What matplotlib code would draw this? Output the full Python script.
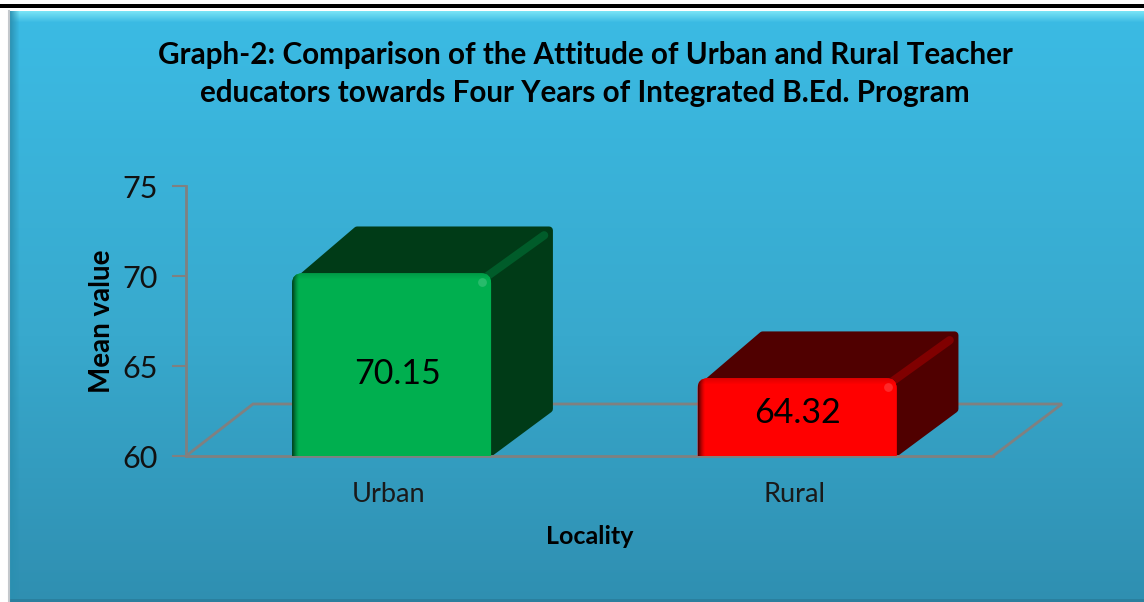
import numpy as np
import matplotlib
matplotlib.use("Agg")
import matplotlib.pyplot as plt
from matplotlib.colors import to_rgb
from matplotlib.patches import FancyBboxPatch, Polygon

categories = ["Urban", "Rural"]
means = [70.15, 64.32]
value_labels = ["70.15", "64.32"]
yticks = [60, 65, 70, 75]

front_colors = ["#00b050", "#ff0000"]
side_colors = ["#003b17", "#500000"]
band_colors = ["#005c2a", "#800000"]

plt.rcParams["font.family"] = ["Lato", "DejaVu Sans"]

W, H = 1144, 602
fig = plt.figure(figsize=(W / 100, H / 100), dpi=100, facecolor="white")

# background panel, drawn in pixel coords on a full figure axes
bg = fig.add_axes([0, 0, 1, 1])
bg.axis("off")
bg.fill_between([0, W], 4, 8, color="black", lw=0)
top = np.array(to_rgb("#3bbbe4"))
mid = np.array(to_rgb("#38a9cd"))
bot = np.array(to_rgb("#2f8fb1"))
t = np.linspace(0, 1, 300)[:, None]
grad = np.where(t < 0.55, top + (mid - top) * t / 0.55, mid + (bot - mid) * (t - 0.55) / 0.45)
bg.imshow(grad[:, None, :], extent=[10, W, H, 11], aspect="auto", zorder=1)

# bevel: light fade along the top, thin dark fade on the left
fade = np.zeros((12, 1, 4))
fade[:, :, :3] = to_rgb("#7fe8f8")
fade[:, :, 3] = np.linspace(0.9, 0, 12)[:, None]
bg.imshow(fade, extent=[10, W, 23, 11], aspect="auto", zorder=2)
fade = np.zeros((1, 10, 4))
fade[:, :, :3] = to_rgb("#2a8fb0")
fade[:, :, 3] = np.linspace(0.9, 0, 10)[None, :]
bg.imshow(fade, extent=[10, 20, H, 11], aspect="auto", zorder=2)
bg.fill_between([10, W], 599, H, color="#2a7f9e", lw=0, zorder=2)
bg.plot([9, 9], [11, H], color="#c4c8cc", lw=1.5, zorder=2)
bg.set_xlim(0, W)
bg.set_ylim(H, 0)

fig.text(585 / W, 1 - 55 / H, "Graph-2: Comparison of the Attitude of Urban and Rural Teacher",
         ha="center", va="center", fontsize=21.3, fontweight="bold", color="black")
fig.text(585 / W, 1 - 93 / H, "educators towards Four Years of Integrated B.Ed. Program",
         ha="center", va="center", fontsize=21.3, fontweight="bold", color="black")

# plot axes: x=0 and x=1 sit on the bar centres
ax = fig.add_axes([186 / W, 1 - 456 / H, (993 - 186) / W, (456 - 186) / H])
ax.patch.set_alpha(0)
ax.set_xlim(-0.507, 1.483)
ax.set_ylim(60, 75)
px_x = 1.99 / 807
px_y = 15 / 270

grey = "#808080"
for s in ["top", "right"]:
    ax.spines[s].set_visible(False)
for s in ["left", "bottom"]:
    ax.spines[s].set_color(grey)
    ax.spines[s].set_linewidth(2)
ax.set_yticks(yticks)
ax.set_xticks([i - 3 * px_x for i in range(len(categories))])
ax.set_xticklabels(categories, fontsize=19.5, color="#1a1a1a")
ax.tick_params(axis="x", length=0, pad=18.5)
ax.tick_params(axis="y", length=10, width=1.5, color=grey, labelsize=22, pad=10, labelcolor="#111111")
ax.set_xlabel("Locality", fontsize=18, fontweight="bold", labelpad=13, color="black")
ax.set_ylabel("Mean value", fontsize=20, fontweight="bold", labelpad=5.5, color="black")

# floor
x0, x1 = ax.get_xlim()
floor = [[x0, 60], [x0 + 67 * px_x, 60 + 52 * px_y], [x1 + 69 * px_x, 60 + 52 * px_y], [x1, 60]]
ax.add_patch(Polygon(floor, closed=False, fill=False, edgecolor=grey, lw=2, zorder=1, clip_on=False))

# bars
bar_w = 199 * px_x
dx, dy = 61 * px_x, 47 * px_y
label_shift = [(6, 101), (0, 35)]  # px right of centre, px below top of bar
bars = ax.bar(range(len(categories)), [m - 60 for m in means], width=bar_w, bottom=60,
              color=front_colors, zorder=3)

for bar, val, label, shift, fc, sc, bc in zip(bars, means, value_labels, label_shift,
                                              front_colors, side_colors, band_colors):
    l, r = bar.get_x(), bar.get_x() + bar.get_width()
    bar.set_visible(False)

    # depth faces, inset with a thick round join to get soft corners
    ins_x, ins_y = 3 * px_x, 4 * px_y
    pts = [[l + 10 * px_x, val - ins_y], [l + dx + 4 * px_x, val + dy - ins_y],
           [r + dx - ins_x, val + dy - ins_y], [r + dx - ins_x, 60 + dy],
           [r, 60 + ins_y], [r, val]]
    ax.add_patch(Polygon(pts, facecolor=sc, edgecolor=sc, lw=5.5, joinstyle="round", zorder=2, clip_on=False))
    ax.plot([r - 4 * px_x, r + dx - 8 * px_x], [val - 3 * px_y, val + dy - 9 * px_y],
            color=bc, lw=6, solid_capstyle="round", zorder=2.5, clip_on=False)

    # front face with rounded top and shaded edges
    box = FancyBboxPatch((l + 10 * px_x, 50), r - l - 20 * px_x, val - 50 - 10 * px_y,
                         boxstyle="round,pad=%f,rounding_size=%f" % (10 * px_x, 10 * px_x),
                         mutation_aspect=px_y / px_x, facecolor=fc, edgecolor="none",
                         transform=ax.transData, zorder=3)
    ax.add_patch(box)

    nw, nh = 199, max(int(round((val - 60) / px_y)), 1)
    base = np.array(to_rgb(fc))
    xx = np.arange(nw)[None, :]
    yy = np.arange(nh)[:, None]
    left = np.clip(1 - xx / 7.0, 0, 1)
    up = np.clip(1 - yy / 6.0, 0, 1)
    shade = 1 - 0.65 * left ** 1.5 - 0.12 * up
    img = base * shade[:, :, None]
    im = ax.imshow(np.clip(img, 0, 1), extent=[l, r, 60, val], aspect="auto", zorder=3.1)
    im.set_clip_path(box)
    ax.scatter([r - 9 * px_x], [val - 9 * px_y], s=40, color="white", alpha=0.16, lw=0, zorder=3.2)
    ax.text((l + r) / 2 + shift[0] * px_x, val - shift[1] * px_y, label, ha="center", va="center",
            fontsize=24.5, color="black", zorder=4)

ax.set_xlim(x0, x1)
ax.set_ylim(60, 75)

plt.savefig("out.png", dpi=100)
